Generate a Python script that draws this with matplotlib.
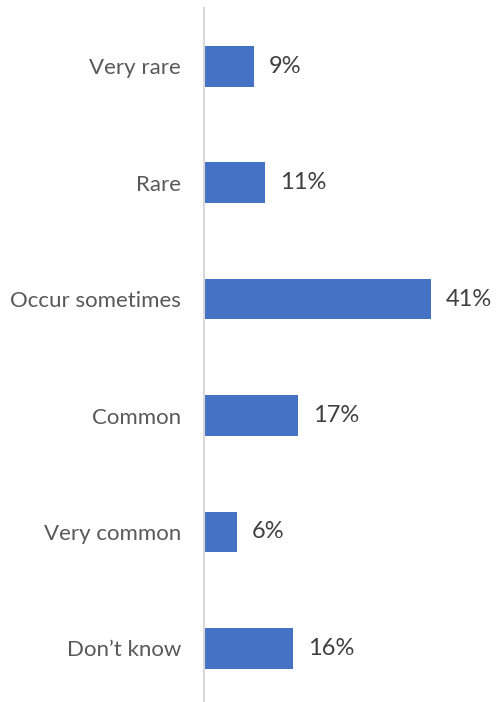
import matplotlib
matplotlib.use("Agg")
import matplotlib.pyplot as plt

categories = ["Very rare", "Rare", "Occur sometimes", "Common", "Very common", "Don\u2019t know"]
values = [9, 11, 41, 17, 6, 16]

plt.rcParams['font.family'] = ['Lato', 'DejaVu Sans']

fig = plt.figure(figsize=(4.96, 7.02), dpi=100)
ax = fig.add_axes([204 / 496, 0, 1 - 204 / 496, 1 - 8 / 702])

pos = list(range(len(categories)))
ax.barh(pos, values, height=0.35, color="#4472C4")
for p, v in zip(pos, values):
    ax.text(v + 2.7, p, f"{v}%", va="center", ha="left", fontsize=17, color="#404040")

ax.set_xlim(0, 52.7)
ax.set_ylim(5.46, -0.5)
ax.set_yticks(pos)
ax.set_yticklabels(categories, fontsize=16, color="#595959")
ax.tick_params(axis="y", length=0, pad=16.5)
ax.set_xticks([])
for side in ["top", "right", "bottom"]:
    ax.spines[side].set_visible(False)
ax.spines["left"].set_color("#D9D9D9")
ax.spines["left"].set_linewidth(1.5)

fig.savefig("out.png", dpi=100)
